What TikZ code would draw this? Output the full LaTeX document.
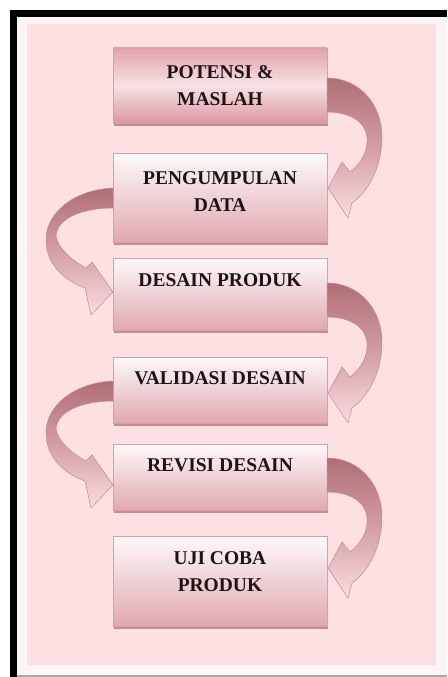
\documentclass[tikz,border=0pt]{standalone}
\usepackage{fontspec}
\setmainfont{Liberation Serif}
\usetikzlibrary{calc,shadows}
\definecolor{outerw}{RGB}{252,244,245}
\definecolor{bgpink}{RGB}{253,224,226}
\definecolor{boxtop}{RGB}{253,249,250}
\definecolor{boxbot}{RGB}{224,168,175}
\definecolor{boxline}{RGB}{214,160,166}
\definecolor{shadowc}{RGB}{196,140,147}
\definecolor{b1top}{RGB}{226,162,170}
\definecolor{b1mid}{RGB}{246,226,229}
\definecolor{b1bot}{RGB}{218,152,160}
\definecolor{arrdark}{RGB}{176,110,118}
\definecolor{arrmid}{RGB}{212,158,165}
\definecolor{arrlight}{RGB}{248,222,225}
\definecolor{arredge}{RGB}{200,138,146}
\definecolor{txt}{RGB}{30,18,21}
\tikzset{
  stepbox/.style={rectangle, minimum width=214pt, inner sep=0pt, outer sep=0pt,
    top color=boxtop, bottom color=boxbot, draw=boxline, line width=0.5pt,
    drop shadow={shadow xshift=1pt, shadow yshift=-3pt, fill=shadowc, opacity=1}},
  firstbox/.style={stepbox, top color=b1top, bottom color=b1bot, middle color=b1mid},
  steplabel/.style={anchor=north, align=center, inner sep=0pt, text=txt,
    font=\fontsize{19.5}{27}\selectfont\bfseries},
  curvearrow/.style={top color=arrdark, bottom color=arrlight, middle color=arrmid,
    draw=arredge, line width=0.5pt, line join=round}
}
\newcommand{\rcurve}[1]{%
  \begin{scope}[shift={#1}]
    \shade[curvearrow] (0,0) .. controls (33,0) and (55,27) .. (55,59)
      .. controls (55,87) and (43,112) .. (25,125) -- (21,140) -- (1,110) -- (15,84) -- (23,94)
      .. controls (35,85) and (41,72) .. (40,60)
      .. controls (39,44) and (23,34) .. (0,34) -- cycle;
  \end{scope}}
\newcommand{\lcurve}[1]{%
  \begin{scope}[shift={#1}]
    \shade[curvearrow] (0,0) .. controls (-40,2) and (-66,25) .. (-67,50)
      .. controls (-68,75) and (-50,92) .. (-28,100) -- (-22,127) -- (0,104) -- (-21,74) -- (-27,80)
      .. controls (-42,72) and (-55,60) .. (-57,48)
      .. controls (-56,30) and (-30,20) .. (0,20) -- cycle;
  \end{scope}}
\begin{document}
\begin{tikzpicture}[x=1pt,y=-1pt]
\useasboundingbox (0,0) rectangle (447,677);
% frame
\fill[white] (0,0) rectangle (447,677);
\fill[outerw] (17,17) rectangle (447,674);
\fill[bgpink] (27,24) rectangle (436,665);
\fill[black] (10,10) rectangle (447,17);
\fill[black] (10,10) rectangle (17,677);
\fill[gray!70] (17,674.5) rectangle (447,677);
% boxes
\node[firstbox, minimum height=75pt] (b1) at (220,85.5) {};
\node[stepbox, minimum height=89pt] (b2) at (220,197.5) {};
\node[stepbox, minimum height=72pt] (b3) at (220,294) {};
\node[stepbox, minimum height=66pt] (b4) at (220,390) {};
\node[stepbox, minimum height=66pt] (b5) at (220,477) {};
\node[stepbox, minimum height=90pt] (b6) at (220,581) {};
% labels
\node[steplabel] (l1) at ($(b1.north)+(0,17)$) {POTENSI \&\\MASLAH};
\node[steplabel] (l2) at ($(b2.north)+(0,18)$) {PENGUMPULAN\\DATA};
\node[steplabel] (l3) at ($(b3.north)+(0,15)$) {DESAIN PRODUK};
\node[steplabel] (l4) at ($(b4.north)+(0,14)$) {VALIDASI DESAIN};
\node[steplabel] (l5) at ($(b5.north)+(0,14)$) {REVISI DESAIN};
\node[steplabel] (l6) at ($(b6.north)+(0,15)$) {UJI COBA\\PRODUK};
% curved arrows
\rcurve{($(b1.north east)+(0,30)$)}
\lcurve{($(b2.north west)+(0,35)$)}
\rcurve{($(b3.north east)+(0,25)$)}
\lcurve{($(b4.north west)+(0,24)$)}
\rcurve{($(b5.north east)+(0,14)$)}
\end{tikzpicture}
\end{document}
